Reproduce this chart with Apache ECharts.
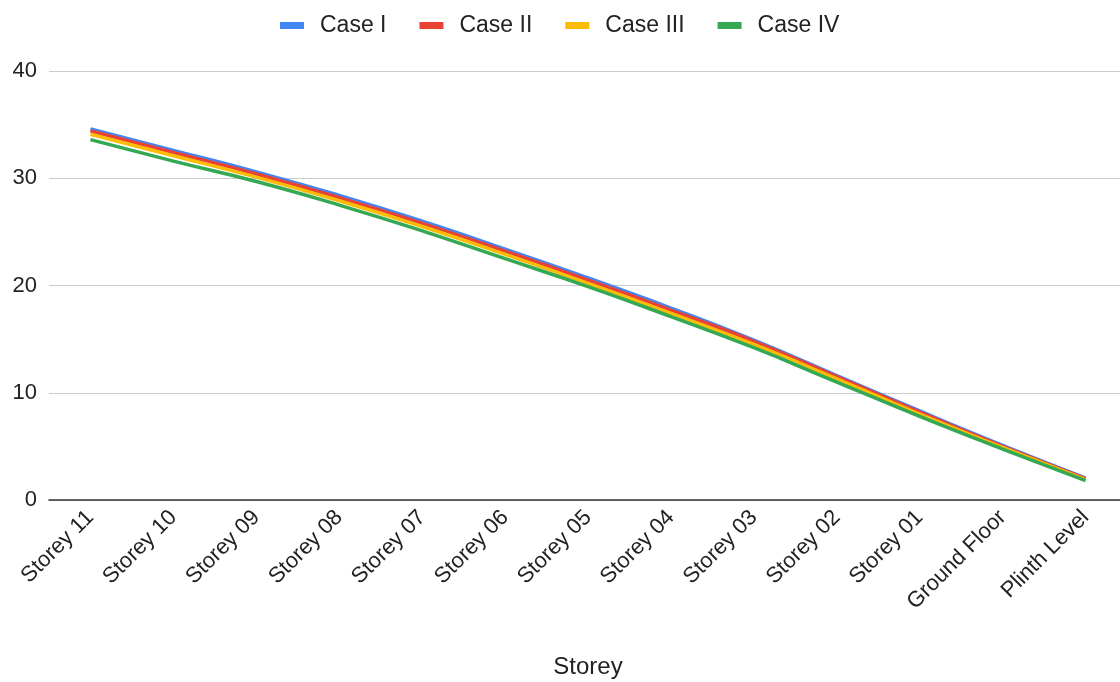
<!DOCTYPE html>
<html><head><meta charset="utf-8">
<script src="https://cdn.jsdelivr.net/npm/echarts@6/dist/echarts.min.js"></script>
<style>html,body{margin:0;padding:0;background:#fff}#c{width:1120px;height:682px}</style>
</head><body><div id="c"></div>
<script>
const categories = ["Storey 11","Storey 10","Storey 09","Storey 08","Storey 07","Storey 06","Storey 05","Storey 04","Storey 03","Storey 02","Storey 01","Ground Floor","Plinth Level"];
const caseI   = [34.6, 32.6, 30.6, 28.4, 26.0, 23.4, 20.7, 17.9, 14.9, 11.6, 8.3, 5.1, 2.05];
const caseII  = [34.4, 32.4, 30.4, 28.2, 25.8, 23.2, 20.5, 17.7, 14.8, 11.5, 8.2, 5.0, 2.0];
const caseIII = [34.1, 32.1, 30.1, 27.9, 25.5, 22.9, 20.2, 17.4, 14.5, 11.3, 8.0, 4.9, 1.9];
const caseIV  = [33.6, 31.6, 29.7, 27.5, 25.1, 22.5, 19.9, 17.1, 14.2, 11.0, 7.8, 4.75, 1.8];
const yTicks = [0, 10, 20, 30, 40];
const seriesNames = ["Case I","Case II","Case III","Case IV"];
const colors = ["#4285F4","#EA4335","#FBBC04","#34A853"];
const seriesData = [caseI, caseII, caseIII, caseIV];

const FONT = 'Arial, "Liberation Sans", sans-serif';
const chart = echarts.init(document.getElementById('c'), null, {renderer:'canvas'});
chart.setOption({
  animation:false,
  color: colors,
  textStyle:{fontFamily:FONT},
  legend:{
    top: 9, left:275,
    itemWidth: 24, itemHeight: 7, itemGap: 33,
    icon:'rect',
    textStyle:{fontSize:23, color:'#222', fontFamily:FONT, padding:[0,0,0,11]},
    data: seriesNames
  },
  grid:{left:49, width:1078, top:71, bottom:182, containLabel:false, outerBoundsMode:'none'},
  xAxis:{
    type:'category', data:categories, boundaryGap:true,
    name:'Storey', nameLocation:'middle', nameGap:155,
    nameTextStyle:{fontSize:24, color:'#222', fontFamily:FONT},
    axisLine:{lineStyle:{color:'#333', width:1.5}},
    axisTick:{show:false},
    axisLabel:{rotate:45, fontSize:22, color:'#222', margin:14, interval:0, fontFamily:FONT}
  },
  yAxis:{
    type:'value', min:yTicks[0], max:yTicks[yTicks.length-1], interval:10,
    axisLine:{show:false}, axisTick:{show:false},
    axisLabel:{fontSize:22, color:'#222', margin:12, fontFamily:FONT},
    splitLine:{lineStyle:{color:'#ccc', width:1}}
  },
  series: seriesNames.map((n,i)=>({
    name:n, type:'line', data:seriesData[i], smooth:true, showSymbol:false,
    lineStyle:{width:3.5, color:colors[i]}, z: 10+i
  }))
});
</script></body></html>
